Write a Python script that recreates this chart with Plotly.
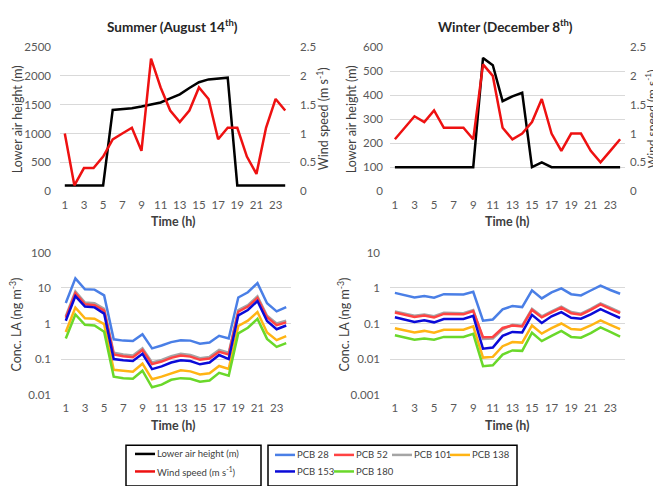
import plotly.graph_objects as go

W, H = 661, 486
hours = list(range(1, 25))
xtick_vals = [1, 3, 5, 7, 9, 11, 13, 15, 17, 19, 21, 23]

# ---- Summer (August 14th)
summer_height = [100, 100, 100, 100, 100, 1410, 1420, 1440, 1470, 1500, 1540, 1610,
                 1680, 1790, 1890, 1940, 1960, 1970, 100, 100, 100, 100, 110, 100]
summer_wind = [1.0, 0.1, 0.4, 0.4, 0.6, 0.9, 1.0, 1.1, 0.7, 2.3, 1.8, 1.4,
               1.2, 1.4, 1.8, 1.6, 0.9, 1.1, 1.1, 0.6, 0.3, 1.1, 1.6, 1.4]
# ---- Winter (December 8th)
winter_height = [100, 100, 100, 100, 100, 100, 100, 100, 100, 555, 525, 375,
                 395, 410, 100, 120, 100, 100, 100, 100, 100, 100, 100, 100]
winter_wind = [0.9, 1.1, 1.3, 1.2, 1.4, 1.1, 1.1, 1.1, 0.9, 2.2, 2.0, 1.1,
               0.9, 1.0, 1.2, 1.6, 1.0, 0.7, 1.0, 1.0, 0.7, 0.5, 0.7, 0.9]

# ---- Summer concentrations (ng m-3)
s_pcb28 = [3.8, 18.7, 9.2, 9.0, 6.2, 0.36, 0.33, 0.32, 0.5, 0.2, 0.24, 0.3,
           0.34, 0.33, 0.27, 0.29, 0.45, 0.38, 5.4, 7.6, 13.7, 3.7, 2.2, 2.9]
s_pcb52 = [1.45, 7.2, 3.5, 3.3, 2.3, 0.135, 0.12, 0.113, 0.18, 0.072, 0.085, 0.108,
           0.126, 0.117, 0.095, 0.104, 0.16, 0.135, 2.15, 3.0, 5.2, 1.5, 0.9, 1.08]
s_pcb101 = [1.6, 8.0, 3.9, 3.7, 2.6, 0.15, 0.134, 0.126, 0.2, 0.08, 0.094, 0.12,
            0.14, 0.13, 0.106, 0.115, 0.18, 0.15, 2.4, 3.3, 5.8, 1.65, 1.0, 1.2]
s_pcb138 = [0.58, 2.8, 1.4, 1.37, 0.96, 0.05, 0.047, 0.044, 0.074, 0.027, 0.032, 0.04,
            0.048, 0.045, 0.037, 0.04, 0.064, 0.053, 0.85, 1.2, 2.1, 0.56, 0.34, 0.44]
s_pcb153 = [1.2, 5.9, 3.0, 2.85, 1.9, 0.1, 0.092, 0.088, 0.14, 0.052, 0.062, 0.08,
            0.092, 0.088, 0.071, 0.08, 0.13, 0.1, 1.7, 2.4, 4.3, 1.18, 0.69, 0.88]
s_pcb180 = [0.38, 1.8, 0.92, 0.88, 0.59, 0.032, 0.029, 0.028, 0.047, 0.016, 0.019, 0.026,
            0.029, 0.028, 0.023, 0.025, 0.041, 0.034, 0.53, 0.76, 1.35, 0.37, 0.22, 0.28]

# ---- Winter concentrations (ng m-3)
w_pcb28 = [0.73, 0.62, 0.54, 0.59, 0.53, 0.67, 0.67, 0.66, 0.78, 0.12, 0.13, 0.25,
           0.31, 0.29, 0.86, 0.51, 0.75, 0.98, 0.67, 0.62, 0.85, 1.16, 0.88, 0.69]
w_pcb52 = [0.205, 0.177, 0.153, 0.167, 0.149, 0.186, 0.186, 0.181, 0.223, 0.041, 0.042, 0.075,
           0.088, 0.083, 0.242, 0.149, 0.205, 0.279, 0.195, 0.177, 0.242, 0.344, 0.26, 0.195]
w_pcb101 = [0.22, 0.19, 0.165, 0.18, 0.16, 0.2, 0.2, 0.195, 0.24, 0.037, 0.038, 0.069,
            0.092, 0.087, 0.26, 0.16, 0.22, 0.3, 0.21, 0.19, 0.26, 0.37, 0.28, 0.21]
w_pcb138 = [0.074, 0.063, 0.056, 0.062, 0.055, 0.067, 0.067, 0.067, 0.083, 0.011, 0.0115, 0.023,
            0.03, 0.029, 0.088, 0.052, 0.074, 0.1, 0.07, 0.067, 0.088, 0.123, 0.092, 0.07]
w_pcb153 = [0.15, 0.13, 0.11, 0.123, 0.108, 0.134, 0.134, 0.134, 0.165, 0.0195, 0.021, 0.045,
            0.058, 0.056, 0.176, 0.104, 0.16, 0.21, 0.145, 0.137, 0.18, 0.255, 0.19, 0.143]
w_pcb180 = [0.047, 0.04, 0.035, 0.038, 0.035, 0.042, 0.042, 0.042, 0.051, 0.0063, 0.0067, 0.0134,
            0.0175, 0.017, 0.055, 0.032, 0.045, 0.062, 0.042, 0.04, 0.054, 0.078, 0.058, 0.043]

pcb_names = ["PCB 28", "PCB 52", "PCB 101", "PCB 138", "PCB 153", "PCB 180"]
pcb_colors = ["#4a7fe6", "#ff4343", "#a5a5a5", "#ffb414", "#0a0ad8", "#6ad82a"]
summer_pcbs = [s_pcb28, s_pcb52, s_pcb101, s_pcb138, s_pcb153, s_pcb180]
winter_pcbs = [w_pcb28, w_pcb52, w_pcb101, w_pcb138, w_pcb153, w_pcb180]
# drawing order (back to front)
draw_order = [0, 2, 1, 3, 5, 4]

HEIGHT_NAME = "Lower air height (m)"
WIND_NAME = "Wind speed (m s<sup>-1</sup>)"
HEIGHT_COLOR = "#000000"
WIND_COLOR = "#ee1111"

FONT = "Lato"
TICK_COLOR = "#595959"
TEXT_COLOR = "#404040"
GRID = "#d9d9d9"
LW = 2.5


def px_x(a, b):
    return [a / W, b / W]


def px_y(top, bottom):
    return [1 - bottom / H, 1 - top / H]


fig = go.Figure()

# Top panels: lower air height + wind speed
fig.add_trace(go.Scatter(x=hours, y=summer_height, mode="lines", name=HEIGHT_NAME,
                         line=dict(color=HEIGHT_COLOR, width=LW), xaxis="x", yaxis="y"))
fig.add_trace(go.Scatter(x=hours, y=summer_wind, mode="lines", name=WIND_NAME,
                         line=dict(color=WIND_COLOR, width=LW), xaxis="x", yaxis="y2"))
fig.add_trace(go.Scatter(x=hours, y=winter_height, mode="lines", name=HEIGHT_NAME,
                         line=dict(color=HEIGHT_COLOR, width=LW), xaxis="x2", yaxis="y3"))
fig.add_trace(go.Scatter(x=hours, y=winter_wind, mode="lines", name=WIND_NAME,
                         line=dict(color=WIND_COLOR, width=LW), xaxis="x2", yaxis="y4"))

# Bottom panels: concentrations
for i in draw_order:
    fig.add_trace(go.Scatter(x=hours, y=summer_pcbs[i], mode="lines", name=pcb_names[i],
                             line=dict(color=pcb_colors[i], width=LW), xaxis="x3", yaxis="y5"))
for i in draw_order:
    fig.add_trace(go.Scatter(x=hours, y=winter_pcbs[i], mode="lines", name=pcb_names[i],
                             line=dict(color=pcb_colors[i], width=LW), xaxis="x4", yaxis="y6"))

tickfont = dict(family=FONT, size=11.5, color=TICK_COLOR)


def xaxis(domain, anchor):
    return dict(domain=domain, anchor=anchor, range=[0.5, 24.5], tickmode="array",
                tickvals=xtick_vals, ticktext=[str(v) for v in xtick_vals],
                showgrid=False, zeroline=False, showline=False, ticks="",
                tickfont=tickfont, ticklabelstandoff=5)


top_y = px_y(33, 181)
bot_y = px_y(244, 390)

layout = dict(
    width=W, height=H, margin=dict(l=0, r=0, t=0, b=0),
    paper_bgcolor="white", plot_bgcolor="white", showlegend=False,
    font=dict(family=FONT, size=11, color=TEXT_COLOR),
    xaxis=xaxis(px_x(52, 282), "y"),
    xaxis2=xaxis(px_x(382, 617), "y3"),
    xaxis3=xaxis(px_x(53, 283), "y5"),
    xaxis4=xaxis(px_x(382, 617), "y6"),
    yaxis=dict(domain=top_y, anchor="x", range=[0, 2500], dtick=500, gridcolor=GRID,
               gridwidth=1, zeroline=False, showline=False, tickfont=tickfont,
               ticklabelstandoff=8),
    yaxis2=dict(overlaying="y", side="right", anchor="x", range=[0, 2.5], dtick=0.5,
                showgrid=False, zeroline=False, showline=False, tickfont=tickfont,
                ticklabelstandoff=9),
    yaxis3=dict(domain=top_y, anchor="x2", range=[0, 600], dtick=100, gridcolor=GRID,
                zeroline=False, showline=False, tickfont=tickfont, ticklabelstandoff=6),
    yaxis4=dict(overlaying="y3", side="right", anchor="x2", range=[0, 2.5], dtick=0.5,
                showgrid=False, zeroline=False, showline=False, tickfont=tickfont,
                ticklabelstandoff=4),
    yaxis5=dict(domain=bot_y, anchor="x3", type="log", range=[-2, 2], tickmode="array",
                tickvals=[0.01, 0.1, 1, 10, 100], ticktext=["0.01", "0.1", "1", "10", "100"],
                gridcolor=GRID, zeroline=False, showline=False, tickfont=tickfont,
                ticklabelstandoff=9),
    yaxis6=dict(domain=bot_y, anchor="x4", type="log", range=[-3, 1], tickmode="array",
                tickvals=[0.001, 0.01, 0.1, 1, 10], ticktext=["0.001", "0.01", "0.1", "1", "10"],
                gridcolor=GRID, zeroline=False, showline=False, tickfont=tickfont,
                ticklabelstandoff=9),
)
fig.update_layout(**layout)


def ann(text, x_px, y_px, size=12.5, bold=False, angle=0, color=TEXT_COLOR, xanchor="center"):
    fig.add_annotation(text=("<b>%s</b>" % text) if bold else text, x=x_px / W, y=1 - y_px / H,
                       xref="paper", yref="paper", showarrow=False, textangle=angle,
                       xanchor=xanchor, yanchor="middle", borderpad=0, borderwidth=0,
                       font=dict(family=FONT, size=size, color=color))


ann("Summer (August 14<sup>th</sup>)", 164, 11, size=13.5, bold=True, color="#262626")
ann("Winter (December 8<sup>th</sup>)", 497, 11, size=13.5, bold=True, color="#262626")
ann(HEIGHT_NAME, 9, 107, angle=-90)
ann(WIND_NAME, 314, 107, angle=-90)
ann(HEIGHT_NAME, 343, 107, angle=-90)
ann(WIND_NAME, 643, 107, size=12, angle=-90)
ann("Time (h)", 165, 212, size=12.5, bold=True)
ann("Time (h)", 500, 212, size=12.5, bold=True)
ann("Conc. LA (ng m<sup>-3</sup>)", 7, 318, angle=-90)
ann("Conc. LA (ng m<sup>-3</sup>)", 335, 318, angle=-90)
ann("Time (h)", 165, 422, size=12.5, bold=True)
ann("Time (h)", 500, 422, size=12.5, bold=True)

# ---- legend boxes (frames, swatches and labels)
for (x0, x1) in [(118, 253), (260, 509)]:
    fig.add_shape(type="rect", xref="paper", yref="paper",
                  x0=x0 / W, x1=x1 / W, y0=1 - 484 / H, y1=1 - 442 / H,
                  line=dict(color="#000000", width=1.5), fillcolor="rgba(0,0,0,0)")

legend_entries = [
    (HEIGHT_NAME, HEIGHT_COLOR, 127, 451),
    (WIND_NAME, WIND_COLOR, 127, 469),
]
pcb_legend_pos = [(267, 452), (326, 452), (384, 452), (442, 452), (267, 469), (326, 469)]
for name, color, pos in zip(pcb_names, pcb_colors, pcb_legend_pos):
    legend_entries.append((name, color, pos[0], pos[1]))

for name, color, lx, ly in legend_entries:
    fig.add_shape(type="line", xref="paper", yref="paper",
                  x0=lx / W, x1=(lx + 20) / W, y0=1 - ly / H, y1=1 - ly / H,
                  line=dict(color=color, width=LW))
    ann(name, lx + 22, ly, size=9.5, xanchor="left")

fig.write_html("out.html")
